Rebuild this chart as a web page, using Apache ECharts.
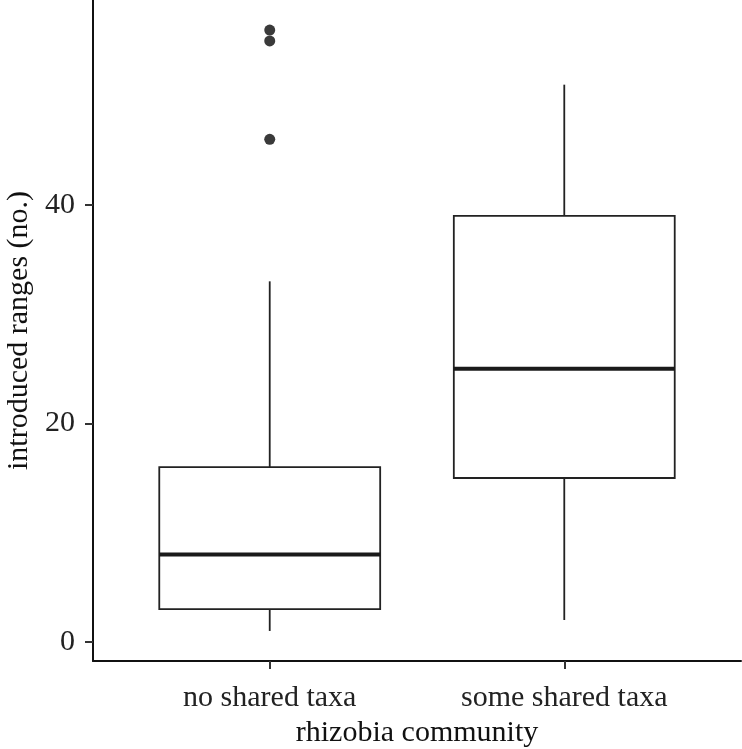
<!DOCTYPE html>
<html>
<head>
<meta charset="utf-8">
<script src="https://cdn.jsdelivr.net/npm/echarts@6/dist/echarts.min.js"></script>
<style>
  html, body { margin: 0; padding: 0; background: #fff; }
  #chart { width: 742px; height: 749px; }
</style>
</head>
<body>
<div id="chart"></div>
<script>
  // categories on x
  var categories = ['no shared taxa', 'some shared taxa'];
  var catPos = [1, 2];
  // box stats: min whisker, Q1, median, Q3, max whisker
  var whiskerLow = [1, 2];
  var q1 = [3, 15];
  var median = [8, 25];
  var q3 = [16, 39];
  var whiskerHigh = [33, 51];
  // outliers: [category position, value]
  var outlierPos = [1, 1, 1];
  var outlierVal = [56, 55, 46];
  var yTicks = [0, 20, 40];

  var fontFamily = '"Liberation Serif", "DejaVu Serif", serif';

  var boxData = catPos.map(function(p, i) {
    return [p, whiskerLow[i], q1[i], median[i], q3[i], whiskerHigh[i]];
  });
  var outliers = outlierPos.map(function(p, i) {
    return [p, outlierVal[i]];
  });

  function renderBox(params, api) {
    var x = api.value(0);
    var pLow = api.coord([x, api.value(1)]);
    var pQ1 = api.coord([x, api.value(2)]);
    var pMed = api.coord([x, api.value(3)]);
    var pQ3 = api.coord([x, api.value(4)]);
    var pHigh = api.coord([x, api.value(5)]);
    var half = api.size([0.375, 0])[0];
    return {
      type: 'group',
      children: [
        {
          type: 'line',
          shape: { x1: pHigh[0], y1: pHigh[1], x2: pQ3[0], y2: pQ3[1] },
          style: { stroke: '#222', lineWidth: 1.8 }
        },
        {
          type: 'line',
          shape: { x1: pQ1[0], y1: pQ1[1], x2: pLow[0], y2: pLow[1] },
          style: { stroke: '#222', lineWidth: 1.8 }
        },
        {
          type: 'rect',
          shape: { x: pQ3[0] - half, y: pQ3[1], width: half * 2, height: pQ1[1] - pQ3[1] },
          style: { fill: '#fff', stroke: '#222', lineWidth: 1.8 }
        },
        {
          type: 'line',
          shape: { x1: pMed[0] - half, y1: pMed[1], x2: pMed[0] + half, y2: pMed[1] },
          style: { stroke: '#1a1a1a', lineWidth: 4 }
        }
      ]
    };
  }

  var chart = echarts.init(document.getElementById('chart'));
  var option = {
    backgroundColor: '#fff',
    animation: false,
    grid: { left: 93, right: 1, top: 0, bottom: 88, outerBoundsMode: 'none' },
    xAxis: {
      type: 'value',
      min: 0.4,
      max: 2.6,
      name: 'rhizobia community',
      nameLocation: 'middle',
      nameGap: 51,
      nameTextStyle: { fontFamily: fontFamily, fontSize: 30, color: '#111' },
      axisLine: { show: true, onZero: false, lineStyle: { color: '#111', width: 2 } },
      axisTick: { show: true, length: 8, customValues: catPos, lineStyle: { color: '#333', width: 2 } },
      axisLabel: {
        customValues: catPos,
        margin: 22,
        fontFamily: fontFamily,
        fontSize: 30,
        color: '#222',
        formatter: function(v) {
          return categories[catPos.indexOf(v)] || '';
        }
      },
      splitLine: { show: false }
    },
    yAxis: {
      type: 'value',
      min: -1.75,
      max: 58.75,
      name: 'introduced ranges (no.)',
      nameLocation: 'middle',
      nameGap: 57,
      nameTextStyle: { fontFamily: fontFamily, fontSize: 30, color: '#111' },
      axisLine: { show: true, onZero: false, lineStyle: { color: '#111', width: 2 } },
      axisTick: { show: true, length: 8, customValues: yTicks, lineStyle: { color: '#333', width: 2 } },
      axisLabel: {
        customValues: yTicks,
        margin: 18,
        fontFamily: fontFamily,
        fontSize: 30,
        color: '#222'
      },
      splitLine: { show: false }
    },
    series: [
      {
        type: 'custom',
        renderItem: renderBox,
        encode: { x: 0, y: [1, 2, 3, 4, 5] },
        data: boxData,
        z: 2
      },
      {
        type: 'scatter',
        data: outliers,
        symbol: 'circle',
        symbolSize: 11,
        itemStyle: { color: '#3a3a3a', opacity: 1 },
        z: 3
      }
    ]
  };
  chart.setOption(option);
</script>
</body>
</html>
